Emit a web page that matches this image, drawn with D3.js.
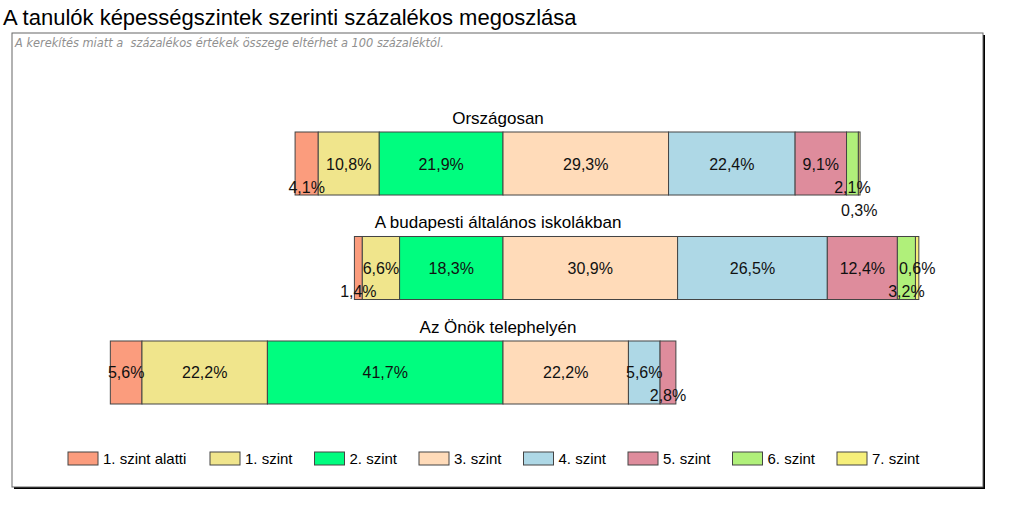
<!DOCTYPE html>
<html><head><meta charset="utf-8">
<script src="https://cdn.jsdelivr.net/npm/d3@7"></script>
<style>body{margin:0;background:#fff;}svg{display:block;font-family:Arial,"Liberation Sans",sans-serif;}</style>
</head><body><svg id="c" width="1024" height="522"></svg>
<script>
const title = "A tanulók képességszintek szerinti százalékos megoszlása";
const note = "A kerekítés miatt a  százalékos értékek összege eltérhet a 100 százaléktól.";
const groups = ["Országosan", "A budapesti általános iskolákban", "Az Önök telephelyén"];
const levels = ["1. szint alatti", "1. szint", "2. szint", "3. szint", "4. szint", "5. szint", "6. szint", "7. szint"];
const colors = ["#FB9C7D", "#F0E58C", "#00FD7F", "#FFDBB9", "#AED8E6", "#DE8C9C", "#B0F07A", "#F6EF7A"];
const valOrszag = [4.1, 10.8, 21.9, 29.3, 22.4, 9.1, 2.1, 0.3];
const valBudapest = [1.4, 6.6, 18.3, 30.9, 26.5, 12.4, 3.2, 0.6];
const valTelephely = [5.6, 22.2, 41.7, 22.2, 5.6, 2.8, 0, 0];
const series = [valOrszag, valBudapest, valTelephely];
const splitIndex = 3; // levels below this index go left of the centre line

const svg = d3.select("#c");
const fmt = v => d3.format(".1f")(v).replace(".", ",") + "%";

// frame
svg.append("rect").attr("x", 14).attr("y", 35).attr("width", 971).attr("height", 454).attr("fill", "#000");
svg.append("rect").attr("x", 12).attr("y", 33).attr("width", 971).attr("height", 454).attr("fill", "#fff").attr("stroke", "#666").attr("stroke-width", 1);

svg.append("text").attr("x", 3).attr("y", 25).attr("font-size", 22).attr("fill", "#000").text(title);
svg.append("text").attr("x", 15).attr("y", 47).attr("font-size", 11.4).attr("font-style", "italic")
  .attr("font-family", "'DejaVu Sans', Verdana, sans-serif").attr("fill", "#909090").attr("xml:space","preserve").text(note);

const x = d3.scaleLinear().domain([-80, 80]).range([503 - 80 * 5.65, 503 + 80 * 5.65]);
const y = d3.scaleBand().domain(groups).range([132, 404]).paddingInner(0.397).paddingOuter(0);
const levelStep = 23;
const pad = 10;

groups.forEach((g, gi) => {
  const vals = series[gi];
  const left = d3.sum(vals.slice(0, splitIndex));
  let cum = -left;
  const segs = vals.map((v, i) => { const s = {i, v, x0: cum, x1: cum + v}; cum += v; return s; });
  const gg = svg.append("g");
  const y0 = y(g), bh = y.bandwidth();
  gg.append("text").attr("x", 498).attr("y", y0 - 8).attr("text-anchor", "middle").attr("font-size", 17).attr("fill", "#000").text(g);
  segs.filter(s => s.v > 0).forEach(s => {
    gg.append("rect").attr("x", x(s.x0)).attr("y", y0).attr("width", x(s.x1) - x(s.x0)).attr("height", bh)
      .attr("fill", colors[s.i]).attr("stroke", "#444").attr("stroke-width", 1);
  });
  const order = [];
  for (let i = splitIndex - 1; i >= 0; i--) order.push(i);
  const orderR = [];
  for (let i = splitIndex; i < vals.length; i++) orderR.push(i);
  [order, orderR].forEach(ord => {
    const side = [];
    ord.forEach(i => {
      const s = segs[i];
      if (s.v <= 0) return;
      const cx = x((s.x0 + s.x1) / 2);
      const t = gg.append("text").attr("x", cx).attr("text-anchor", "middle").attr("font-size", 16).attr("fill", "#111").text(fmt(s.v));
      const w = t.node().getComputedTextLength();
      const a = cx - w / 2, b = cx + w / 2;
      let lvl = 0;
      while (side.some(p => p.lvl === lvl && a < p.b + pad && p.a < b + pad)) lvl++;
      side.push({a, b, lvl});
      t.attr("y", y0 + bh / 2 + 6 + lvl * levelStep);
    });
  });
});

// legend
const lg = svg.append("g");
levels.forEach((l, i) => {
  const lx = 68 + i * 104.5 + (i > 0 ? 37.5 : 0);
  lg.append("rect").attr("x", lx).attr("y", 452).attr("width", 30).attr("height", 13).attr("fill", colors[i]).attr("stroke", "#444").attr("stroke-width", 1);
  lg.append("text").attr("x", lx + 35).attr("y", 464).attr("font-size", 15).attr("fill", "#000").text(l);
});
</script></body></html>
